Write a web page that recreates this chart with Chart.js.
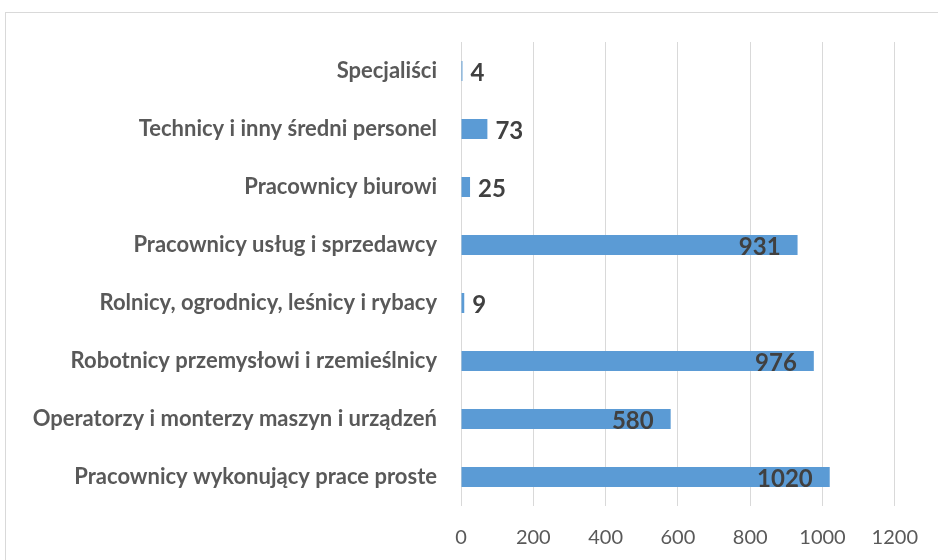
<!DOCTYPE html>
<html><head><meta charset="utf-8">
<script src="https://cdn.jsdelivr.net/npm/chart.js@4/dist/chart.umd.min.js"></script>
<style>html,body{margin:0;padding:0;background:#fff;}#wrap{width:938px;height:560px;position:relative;}</style>
</head><body><div id="wrap"><canvas id="c" width="938" height="560"></canvas></div>
<script>
const categories = ["Specjaliści","Technicy i inny średni personel","Pracownicy biurowi","Pracownicy usług i sprzedawcy","Rolnicy, ogrodnicy, leśnicy i rybacy","Robotnicy przemysłowi i rzemieślnicy","Operatorzy i monterzy maszyn i urządzeń","Pracownicy wykonujący prace proste"];
const values = [4,73,25,931,9,976,580,1020];
const xTicks = [0,200,400,600,800,1000,1200];

const frame = {id:'frame', beforeDraw(chart){const c=chart.ctx;c.save();c.strokeStyle='#d9d9d9';c.lineWidth=1;c.strokeRect(5.5,12.5,2000,2000);c.restore();}};
const labels = {id:'labels', afterDatasetsDraw(chart){
  const c=chart.ctx; const meta=chart.getDatasetMeta(0);
  c.save(); c.font='bold 24px Lato'; c.fillStyle='#404040'; c.textBaseline='middle';
  meta.data.forEach((bar,i)=>{
    const v=values[i]; const txt=String(v);
    if(v>300){c.textAlign='right'; c.fillText(txt, bar.x-17, bar.y+2);}
    else {c.textAlign='left'; c.fillText(txt, bar.x+8, bar.y+2);}
  });
  c.restore();
}};
new Chart(document.getElementById('c'),{
  type:'bar',
  data:{labels:categories,datasets:[{data:values,backgroundColor:'#5b9bd5',borderWidth:0,barPercentage:0.345,categoryPercentage:1}]},
  options:{indexAxis:'y',responsive:false,animation:false,
    layout:{padding:{left:0,right:42,top:42,bottom:0}},
    plugins:{legend:{display:false},tooltip:{enabled:false}},
    scales:{
      x:{min:0,max:1200,afterBuildTicks(s){s.ticks=xTicks.map(v=>({value:v}));},
        grid:{color:'#d9d9d9',lineWidth:1,drawTicks:false},border:{display:false},
        ticks:{color:'#595959',font:{family:'Lato',size:20},padding:20,callback:(v)=>String(v)},
        afterFit(s){s.height=54;}},
      y:{grid:{display:false},border:{display:false},
        ticks:{color:'#595959',font:{family:'Lato',size:22,weight:'bold'},padding:16},
        afterFit(s){s.width=461;}}
    }},
  plugins:[frame,labels]
});
</script></body></html>
